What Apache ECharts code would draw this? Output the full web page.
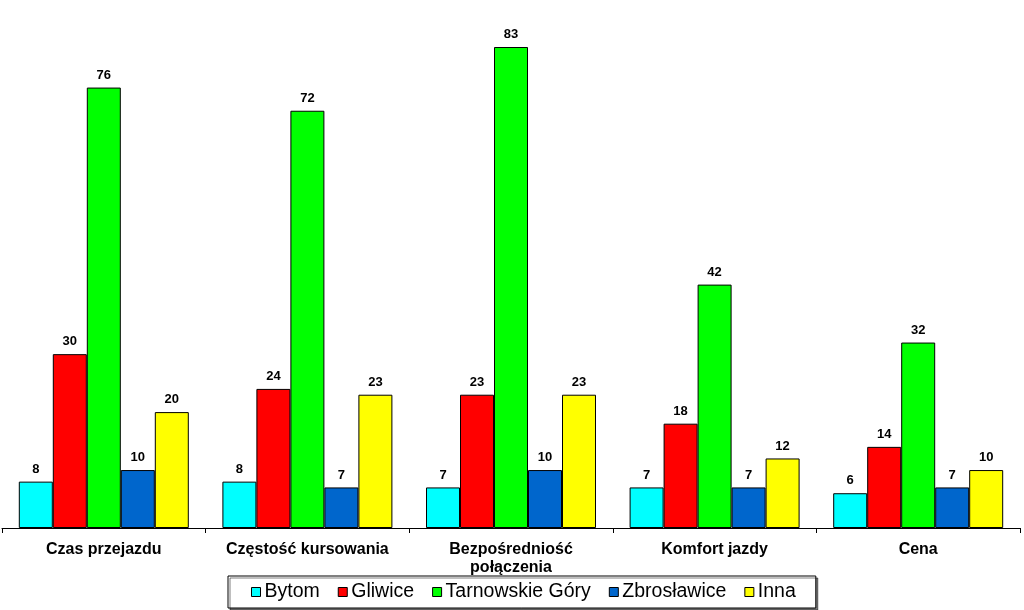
<!DOCTYPE html>
<html><head><meta charset="utf-8">
<script src="https://cdn.jsdelivr.net/npm/echarts@6/dist/echarts.min.js"></script>
<style>html,body{margin:0;padding:0;background:#fff}#c{width:1024px;height:610px}</style>
</head><body><div id="c"></div>
<script>
const categories = ['Czas przejazdu', 'Częstość kursowania', 'Bezpośredniość\npołączenia', 'Komfort jazdy', 'Cena'];
const seriesNames = ['Bytom', 'Gliwice', 'Tarnowskie Góry', 'Zbrosławice', 'Inna'];
const bytom = [8, 8, 7, 7, 6];
const gliwice = [30, 24, 23, 18, 14];
const tarnowskie = [76, 72, 83, 42, 32];
const zbroslawice = [10, 7, 10, 7, 7];
const inna = [20, 23, 23, 12, 10];
const colors = ['#00FFFF', '#FF0000', '#00FF00', '#0066CC', '#FFFF00'];
const allData = [bytom, gliwice, tarnowskie, zbroslawice, inna];

const chart = echarts.init(document.getElementById('c'));
chart.setOption({
  animation: false,
  textStyle: { fontFamily: 'Liberation Sans, Arial, sans-serif' },
  grid: { left: 2, right: 4, top: 47, bottom: 82, containLabel: false },
  legend: {
    bottom: 2, left: 228,
    data: seriesNames,
    icon: 'rect', itemWidth: 9, itemHeight: 9, itemGap: 18,
    borderColor: '#000', borderWidth: 1, padding: [6, 20, 6, 23],
    backgroundColor: '#fff',
    shadowColor: 'rgba(0,0,0,0.5)', shadowOffsetX: 2, shadowOffsetY: 2, shadowBlur: 0,
    textStyle: { fontSize: 19.5, color: '#000', padding: [0, 0, 0, -1] },
    itemStyle: { borderColor: '#000', borderWidth: 1 }
  },
  xAxis: {
    type: 'category', data: categories,
    axisLine: { lineStyle: { color: '#000', width: 1 } },
    axisTick: { show: true, length: 5, lineStyle: { color: '#000' } },
    axisLabel: { fontWeight: 'bold', fontSize: 16, color: '#000', margin: 13, lineHeight: 18, interval: 0 }
  },
  yAxis: { type: 'value', min: 0, max: 83, show: false, splitLine: { show: false } },
  series: allData.map((d, i) => ({
    name: seriesNames[i], type: 'bar', data: d,
    barWidth: 34, barGap: '0%',
    itemStyle: { color: colors[i], borderColor: '#000', borderWidth: 1 },
    label: { show: true, position: 'top', distance: 6, fontWeight: 'bold', fontSize: 13, color: '#000' }
  }))
});
</script></body></html>
